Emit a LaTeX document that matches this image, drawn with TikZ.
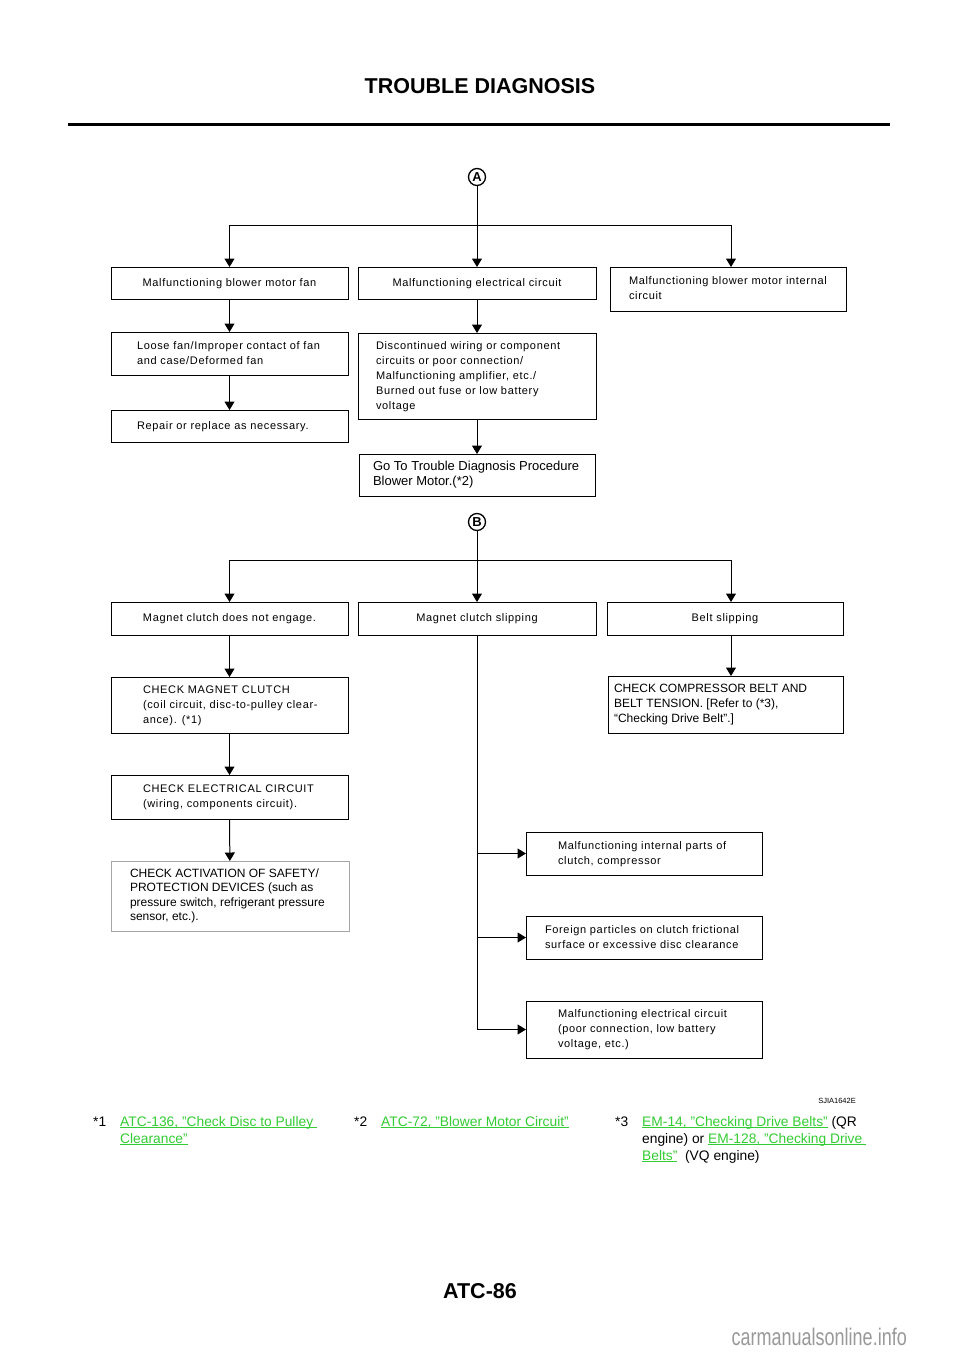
\documentclass[tikz,border=0pt]{standalone}
\usepackage{fontspec}
\setmainfont{Liberation Sans}
\newfontfamily\spfont[LetterSpace=6]{Liberation Sans}
\newfontfamily\wmfont[FakeStretch=0.75]{Liberation Sans}
\usetikzlibrary{arrows.meta}
\definecolor{lnk}{RGB}{51,204,51}
\newcommand\q{\symbol{34}}
\newcommand\lk[1]{{\color{lnk}\setbox0\hbox{#1}\rlap{\rule[-2.2pt]{\wd0}{0.9pt}}\box0}}
\newcommand\mybox[9]{%
  \pgfmathsetmacro\bw{#4-#2}%
  \pgfmathsetmacro\bh{#5-#3}%
  \pgfmathsetmacro\tw{#4-#2-2*#6}%
  \node[box,#8,minimum width=\bw pt,minimum height=\bh pt,inner xsep=#6pt,anchor=north west] (#1) at (#2,#3)
    {\makebox[\tw pt][#7]{\begin{tabular}{@{}l@{}}#9\end{tabular}}};}
\begin{document}
\begin{tikzpicture}[x=1pt,y=-1pt,
  box/.style={draw, line width=1pt, inner ysep=0pt, outer sep=0pt},
  sp/.style={font=\spfont\fontsize{11}{15}\selectfont},
  big/.style={font=\fontsize{13}{15}\selectfont},
  capfont/.style={font=\fontsize{12}{14.6}\selectfont},
  circ/.style={draw, circle, line width=1.3pt, minimum size=17pt, inner sep=0pt, font=\bfseries\fontsize{13}{13}\selectfont},
  conn/.style={line width=1pt},
  arr/.style={conn, -{Triangle[length=8.5pt,width=10pt]}},
  fn/.style={anchor=base west, inner sep=0pt, font=\fontsize{13.8}{17}\selectfont}]
\fill[white] (0,0) rectangle (960,1358);
\useasboundingbox (0,0) rectangle (960,1358);

% header
\node[font=\bfseries\fontsize{21.5}{24}\selectfont] (title) at (480,86) {TROUBLE DIAGNOSIS};
\draw[line width=3pt] (68,124) -- (890,124);

% part A
\node[circ] (cA) at (477,177) {A};
\mybox{a1}{111}{267}{348}{299}{6}{c}{sp}{Malfunctioning blower motor fan}
\mybox{a2}{358}{267}{596}{299}{6}{c}{sp}{Malfunctioning electrical circuit}
\mybox{a3}{610}{267}{846}{311}{19}{l}{sp}{Malfunctioning blower motor internal\\circuit}
\mybox{a4}{111}{332}{348}{375}{26}{l}{sp}{Loose fan/Improper contact of fan\\and case/Deformed fan}
\mybox{a5}{111}{410}{348}{442}{26}{l}{sp}{Repair or replace as necessary.}
\mybox{a6}{358}{333}{596}{419}{18}{l}{sp}{Discontinued wiring or component\\circuits or poor connection/\\Malfunctioning amplifier, etc./\\Burned out fuse or low battery\\voltage}
\mybox{a7}{359}{454}{595}{496}{14}{l}{big}{Go To Trouble Diagnosis Procedure\\Blower Motor.(*2)}

\coordinate (jA) at (477,225);
\coordinate (colR) at (731,0);
\draw[arr] (cA) -- (a2);
\draw[conn] (a1.north |- jA) -- (colR |- jA);
\draw[arr] (a1.north |- jA) -- (a1.north);
\draw[arr] (colR |- jA) -- (colR |- a3.north);
\draw[arr] (a1) -- (a4);
\draw[arr] (a4) -- (a5);
\draw[arr] (a2) -- (a6);
\draw[arr] (a6) -- (a7);

% part B
\node[circ] (cB) at (477,522) {B};
\mybox{b1}{111}{602}{348}{635}{6}{c}{sp}{Magnet clutch does not engage.}
\mybox{b2}{358}{602}{596}{635}{6}{c}{sp}{Magnet clutch slipping}
\mybox{b3}{607}{602}{843}{635}{6}{c}{sp}{Belt slipping}
\mybox{b4}{111}{677}{348}{733}{32}{l}{sp}{CHECK MAGNET CLUTCH\\(coil circuit, disc-to-pulley clear-\\ance). (*1)}
\mybox{b5}{111}{775}{348}{819}{32}{l}{sp}{CHECK ELECTRICAL CIRCUIT\\(wiring, components circuit).}
\mybox{b6}{111}{861}{349}{931}{19}{l}{capfont,draw=gray!70}{CHECK ACTIVATION OF SAFETY/\\PROTECTION DEVICES (such as\\pressure switch, refrigerant pressure\\sensor, etc.).}
\mybox{b7}{608}{676}{843}{733}{6}{l}{capfont}{CHECK COMPRESSOR BELT AND\\BELT TENSION. [Refer to (*3),\\“Checking Drive Belt”.]}
\mybox{c1}{526}{832}{762}{875}{32}{l}{sp}{Malfunctioning internal parts of\\clutch, compressor}
\mybox{c2}{526}{916}{762}{959}{19}{l}{sp}{Foreign particles on clutch frictional\\surface or excessive disc clearance}
\mybox{c3}{526}{1001}{762}{1058}{32}{l}{sp}{Malfunctioning electrical circuit\\(poor connection, low battery\\voltage, etc.)}

\coordinate (jB) at (477,560);
\draw[arr] (cB) -- (b2);
\draw[conn] (b1.north |- jB) -- (colR |- jB);
\draw[arr] (b1.north |- jB) -- (b1.north);
\draw[arr] (colR |- jB) -- (colR |- b3.north);
\draw[arr] (b1) -- (b4);
\draw[arr] (b4) -- (b5);
\draw[arr] (b5) -- (b6);
\draw[arr] (colR |- b3.south) -- (colR |- b7.north);
\coordinate (jC) at (b2.south |- c3.west);
\draw[conn] (b2.south) -- (jC);
\draw[arr] (b2.south |- c1.west) -- (c1.west);
\draw[arr] (b2.south |- c2.west) -- (c2.west);
\draw[arr] (jC) -- (c3.west);

\node[font=\fontsize{7.5}{9}\selectfont, anchor=east, inner sep=0pt] (code) at (856,1101) {SJIA1642E};

% footnotes
\node[fn] (f1) at (93,1126) {*1};
\node[fn] (f1a) at (120,1126) {\lk{ATC-136, \q Check Disc to Pulley\ }};
\node[fn] (f1b) at (120,1143) {\lk{Clearance\q}};
\node[fn] (f2) at (354,1126) {*2};
\node[fn] (f2a) at (381,1126) {\lk{ATC-72, \q Blower Motor Circuit\q}};
\node[fn] (f3) at (615,1126) {*3};
\node[fn] (f3a) at (642,1126) {\lk{EM-14, \q Checking Drive Belts\q} (QR};
\node[fn] (f3b) at (642,1143) {engine) or \lk{EM-128, \q Checking Drive\ }};
\node[fn] (f3c) at (642,1160) {\lk{Belts\q}\ \ (VQ engine)};

% footer
\node[font=\bfseries\fontsize{21.5}{24}\selectfont] (pg) at (480,1291) {ATC-86};
\node[font=\wmfont\fontsize{24}{28}\selectfont, text=gray!80, anchor=east, inner sep=0pt] (wm) at (907,1337) {carmanualsonline.info};
\end{tikzpicture}
\end{document}
